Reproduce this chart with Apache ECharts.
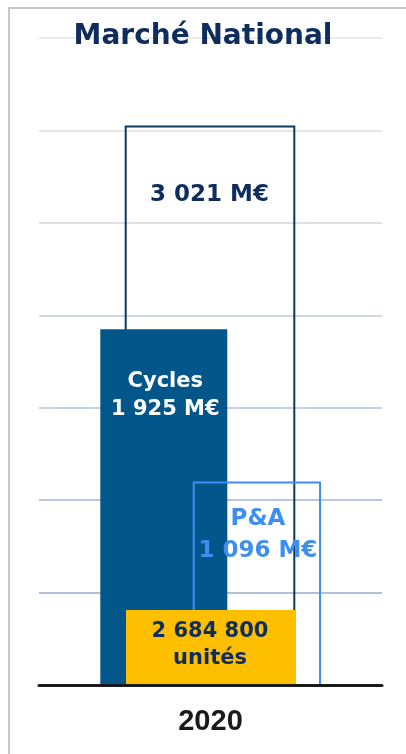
<!DOCTYPE html>
<html>
<head>
<meta charset="utf-8">
<script src="https://cdn.jsdelivr.net/npm/echarts@6/dist/echarts.min.js"></script>
<style>
html, body { margin: 0; padding: 0; background: #fff; }
#main { width: 406px; height: 754px; }
</style>
</head>
<body>
<div id="main"></div>
<script>
// données (M€ et unités)
var categories = ['2020'];
var totalMarket = [3021];
var cyclesMarket = [1925];
var paMarket = [1096];
var unitsSold = [2684800];

var FONT = '"DejaVu Sans", sans-serif';
var NAVY = '#0e2c5c';

function fmt(n) {
    return String(n).replace(/\B(?=(\d{3})+(?!\d))/g, ' ');
}

function toData(values) {
    return categories.map(function (c, i) {
        return [c, values[i]];
    });
}

// dessine une barre décalée par rapport au centre de la catégorie
function makeBar(cfg) {
    return function (params, api) {
        var cat = api.value(0);
        var val = api.value(1);
        var base = api.coord([cat, 0]);
        var topY = cfg.fixedHeight ? base[1] - cfg.fixedHeight : api.coord([cat, val])[1];
        var cx = base[0] + cfg.offset;
        return {
            type: 'group',
            children: [{
                type: 'rect',
                shape: {
                    x: cx - cfg.width / 2,
                    y: topY,
                    width: cfg.width,
                    height: base[1] - topY
                },
                style: cfg.style
            }, {
                type: 'text',
                x: cx + cfg.labelDx,
                y: topY + cfg.labelDy,
                style: {
                    text: cfg.label(val),
                    fill: cfg.labelColor,
                    font: 'bold ' + cfg.fontSize + 'px ' + FONT,
                    lineHeight: cfg.lineHeight,
                    align: 'center',
                    verticalAlign: 'middle'
                }
            }]
        };
    };
}

var myChart = echarts.init(document.getElementById('main'));
var option = {
    backgroundColor: '#fff',
    animation: false,
    title: {
        text: 'Marché National',
        left: 'center',
        top: 18,
        textStyle: {
            color: NAVY,
            fontFamily: FONT,
            fontWeight: 'bold',
            fontSize: 28
        }
    },
    graphic: [{
        type: 'polyline',
        shape: { points: [[9, 754], [9, 8], [406, 8]] },
        style: { stroke: '#c6c6c6', lineWidth: 2, fill: null }
    }],
    grid: {
        left: 39,
        right: 24,
        top: 38,
        bottom: 69
    },
    xAxis: {
        type: 'category',
        data: categories,
        z: 10,
        axisLine: { lineStyle: { color: '#1a1a1a', width: 3 } },
        axisTick: { show: false },
        axisLabel: {
            margin: 22,
            color: '#1a1a1a',
            fontFamily: '"Liberation Sans", Arial, sans-serif',
            fontWeight: 'bold',
            fontSize: 29
        }
    },
    yAxis: {
        type: 'value',
        min: 0,
        max: 3500,
        interval: 500,
        axisLine: { show: false },
        axisTick: { show: false },
        axisLabel: { show: false },
        splitLine: {
            lineStyle: {
                width: 1.5,
                color: ['#9aabc3', '#9aabc3', '#a6b6ca', '#b5c1d2', '#c3ccd8', '#d2d6dd', '#dcdee2', '#e4e4e6']
            }
        }
    },
    series: [{
        name: 'Total',
        type: 'custom',
        z: 2,
        data: toData(totalMarket),
        renderItem: makeBar({
            offset: -0.5, width: 168.6,
            style: { fill: 'transparent', stroke: '#0c3a5e', lineWidth: 2 },
            label: function (v) { return fmt(v) + ' M€'; },
            labelColor: NAVY, fontSize: 23, lineHeight: 28,
            labelDx: -0.5, labelDy: 68.5
        })
    }, {
        name: 'Cycles',
        type: 'custom',
        z: 3,
        data: toData(cyclesMarket),
        renderItem: makeBar({
            offset: -46.7, width: 127,
            style: { fill: '#02568a' },
            label: function (v) { return 'Cycles\n' + fmt(v) + ' M€'; },
            labelColor: '#fff', fontSize: 21, lineHeight: 28,
            labelDx: 1.5, labelDy: 66
        })
    }, {
        name: 'P&A',
        type: 'custom',
        z: 4,
        data: toData(paMarket),
        renderItem: makeBar({
            offset: 46.4, width: 126.3,
            style: { fill: 'transparent', stroke: '#3d8ef0', lineWidth: 2 },
            label: function (v) { return 'P&A\n' + fmt(v) + ' M€'; },
            labelColor: '#3d8ef0', fontSize: 23, lineHeight: 32,
            labelDx: 1, labelDy: 53
        })
    }, {
        name: 'Unités',
        type: 'custom',
        z: 5,
        data: toData(unitsSold),
        renderItem: makeBar({
            offset: 0.5, width: 170, fixedHeight: 75,
            style: { fill: '#fdbf00' },
            label: function (v) { return fmt(v) + '\nunités'; },
            labelColor: NAVY, fontSize: 21, lineHeight: 27,
            labelDx: -1, labelDy: 35.5
        })
    }]
};
myChart.setOption(option);
</script>
</body>
</html>
